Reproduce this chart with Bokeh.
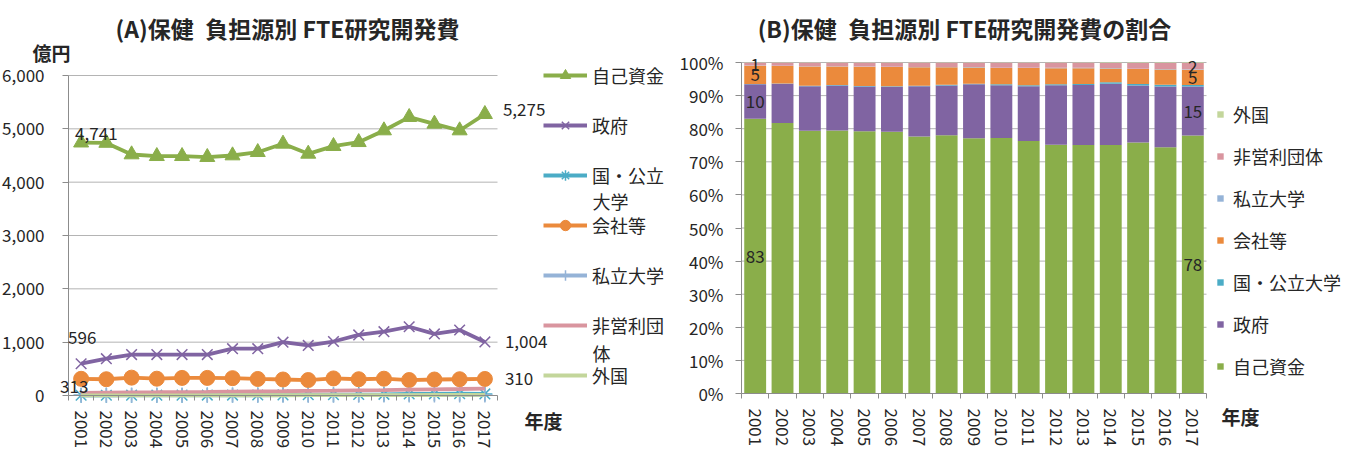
from bokeh.plotting import figure
from bokeh.models import (Range1d, FixedTicker, NumeralTickFormatter, Legend, LegendItem,
                          Label, ColumnDataSource, LinearAxis)
from bokeh.layouts import row
from bokeh.embed import file_html
from bokeh.resources import INLINE

FONT = "Noto Sans CJK JP"
TXT = "#262626"
GRID = "#B4B4B4"
AXIS = "#8C8C8C"

years = [str(y) for y in range(2001, 2018)]
series_names = ["自己資金", "政府", "国・公立大学", "会社等", "私立大学", "非営利団体", "外国"]
self_funds = [4741, 4735, 4519, 4487, 4487, 4469, 4500, 4562, 4719, 4531, 4675, 4749, 4969, 5219, 5094, 4969, 5275]
government = [596, 690, 767, 767, 767, 767, 878, 878, 1000, 939, 1012, 1136, 1197, 1289, 1155, 1228, 1004]
national_univ = [5, 5, 6, 6, 7, 8, 8, 10, 12, 14, 16, 18, 22, 28, 32, 35, 30]
companies = [313, 305, 335, 315, 330, 330, 325, 310, 300, 290, 320, 305, 315, 290, 300, 305, 310]
private_univ = [3, 3, 4, 4, 4, 5, 5, 5, 6, 6, 7, 7, 8, 8, 9, 10, 10]
nonprofit = [50, 55, 60, 62, 65, 68, 72, 75, 80, 86, 90, 96, 100, 110, 116, 122, 130]
foreign = [3, 3, 3, 4, 4, 4, 5, 5, 5, 6, 6, 6, 7, 8, 9, 10, 10]
y_ticks_a = [0, 1000, 2000, 3000, 4000, 5000, 6000]
y_ticks_b = [0, 0.1, 0.2, 0.3, 0.4, 0.5, 0.6, 0.7, 0.8, 0.9, 1.0]

values = [self_funds, government, national_univ, companies, private_univ, nonprofit, foreign]
colors = ["#8AAE4A", "#8064A2", "#4BACC6", "#EB8A3C", "#95B3D7", "#D9959F", "#C3D69B"]
markers = ["triangle", "x", "asterisk", "circle", "cross", None, None]
legend_a_labels = ["自己資金", "政府", "国・公立", "会社等", "私立大学", "非営利団", "外国"]

xs = list(range(len(years)))
N = len(years)
H = 462


def make_fig(width, left, right, top, bottom, ymax):
    """Figure whose frame is the whole canvas; the plot area (left..right, top..bottom px)
    is mapped onto categories -0.5..N-0.5 and values 0..ymax."""
    ppx = (right - left) / N
    ppy = (bottom - top) / ymax
    xr = Range1d(-0.5 - left / ppx, N - 0.5 + (width - right) / ppx)
    yr = Range1d(-(H - bottom) / ppy, ymax + top / ppy)
    p = figure(width=width, height=H, x_range=xr, y_range=yr, x_axis_type=None, y_axis_type=None,
               output_backend="svg", toolbar_location=None, title_location=None,
               min_border=0, min_border_left=0, min_border_right=0, min_border_top=0, min_border_bottom=0)
    p.outline_line_color = None
    p.xgrid.visible = False
    p.ygrid.visible = False
    return p


def add_axes(p, yticks, yfmt, ymax, ystandoff):
    # horizontal grid lines within the plot area
    gy = [t for t in yticks if t != 0]
    p.segment(x0=[-0.5] * len(gy), x1=[N - 0.5] * len(gy), y0=gy, y1=gy,
              line_color=GRID, line_width=1, level="underlay")
    xa = LinearAxis(fixed_location=0, bounds=(-0.5, N - 0.5),
                    ticker=FixedTicker(ticks=xs, minor_ticks=[i - 0.5 for i in range(N + 1)]))
    xa.major_label_overrides = {i: y for i, y in enumerate(years)}
    xa.major_label_orientation = "vertical"
    xa.major_tick_out = 0
    xa.major_tick_in = 0
    xa.minor_tick_out = 5
    xa.minor_tick_in = 0
    xa.major_label_standoff = 10
    ya = LinearAxis(fixed_location=-0.5, bounds=(0, ymax), ticker=FixedTicker(ticks=yticks),
                    formatter=NumeralTickFormatter(format=yfmt))
    ya.major_tick_out = 6
    ya.major_tick_in = 0
    ya.major_label_standoff = ystandoff
    for ax in (xa, ya):
        ax.axis_line_color = AXIS
        ax.major_tick_line_color = AXIS
        ax.minor_tick_line_color = AXIS
        ax.major_label_text_font = FONT
        ax.major_label_text_font_size = "17px"
        ax.major_label_text_color = TXT
    p.add_layout(xa, "below")
    p.add_layout(ya, "left")


def screen_label(p, x, y_top, text, size="18px", bold=False, align="left"):
    p.add_layout(Label(x=x, y=H - y_top, x_units="screen", y_units="screen", text=text,
                       text_font=FONT, text_font_size=size,
                       text_font_style="bold" if bold else "normal",
                       text_color=TXT, text_align=align, text_baseline="middle"))


# ---------------- (A) line chart ----------------
pA = make_fig(680, 68, 497, 75, 395, 6000)
add_axes(pA, y_ticks_a, "0,0", 6000, 18)

items_a = []
for lab, vals, col, mk in zip(legend_a_labels, values, colors, markers):
    rs = [pA.line(xs, vals, line_color=col, line_width=3.8)]
    if mk is not None:
        rs.append(pA.scatter(xs, vals, marker=mk, size=15, line_color=col,
                             line_width=1.5 if mk in ("x", "asterisk", "cross") else 1,
                             fill_color=col))
    items_a.append(LegendItem(label=lab, renderers=rs))

legA = Legend(items=items_a, location=(543, 74), orientation="vertical",
              glyph_width=44, glyph_height=26, label_height=26, spacing=24,
              label_standoff=5, padding=0, margin=0, border_line_alpha=0,
              background_fill_alpha=0, label_text_font=FONT, label_text_font_size="18px",
              label_text_color=TXT)
pA.add_layout(legA, "center")
screen_label(pA, 592, 200, "大学")
screen_label(pA, 592, 352, "体")

# data labels (first / last values)
lab_specs = [
    (0, self_funds[0], -6, 9), (N - 1, self_funds[N - 1], 18, 5),
    (0, government[0], -13, 26), (N - 1, government[N - 1], 20, 0),
    (0, companies[0], -21, -8), (N - 1, companies[N - 1], 20, 0),
]
for xi, v, dx, dy in lab_specs:
    pA.add_layout(Label(x=xi, y=v, x_offset=dx, y_offset=dy, text=f"{v:,}",
                        text_font=FONT, text_font_size="17px", text_color=TXT,
                        text_align="left", text_baseline="middle"))

screen_label(pA, 287, 27, "(A)保健\u2002負担源別 FTE研究開発費", size="23px", bold=True, align="center")
screen_label(pA, 51, 52, "億円", size="19px", bold=True, align="center")
screen_label(pA, 543, 420, "年度", size="19px", bold=True, align="center")

# ---------------- (B) share chart ----------------
totals = [sum(v[i] for v in values) for i in range(N)]
share_keys = [f"s{k}" for k in range(len(series_names))]
data_b = {"x": xs}
for k, vals in zip(share_keys, values):
    data_b[k] = [v / t for v, t in zip(vals, totals)]
src_b = ColumnDataSource(data_b)

pB = make_fig(670, 61, 526, 62, 393, 1.0)
add_axes(pB, y_ticks_b, "0%", 1.0, 12)

rend_b = pB.vbar_stack(share_keys, x="x", width=0.8, color=colors, source=src_b, line_color=None)
items_b = [LegendItem(label=n, renderers=[r]) for n, r in zip(series_names, rend_b)][::-1]
legB = Legend(items=items_b, location=(536, 83), orientation="vertical",
              glyph_width=8, glyph_height=8, label_height=26, spacing=16,
              label_standoff=9, padding=0, margin=0, border_line_alpha=0,
              background_fill_alpha=0, label_text_font=FONT, label_text_font_size="18px",
              label_text_color=TXT)
pB.add_layout(legB, "center")

# segment labels for first and last bars (自己資金, 政府, 会社等, 非営利団体)
for xi in (0, N - 1):
    cum = 0.0
    for k, key in enumerate(share_keys):
        s = data_b[key][xi]
        if series_names[k] in ("自己資金", "政府", "会社等", "非営利団体"):
            pB.add_layout(Label(x=xi, y=cum + s / 2, text=f"{round(s * 100)}",
                                text_font=FONT, text_font_size="17px", text_color=TXT,
                                text_align="center", text_baseline="middle"))
        cum += s

screen_label(pB, 284, 27, "(B)保健\u2002負担源別 FTE研究開発費の割合", size="23px", bold=True, align="center")
screen_label(pB, 560, 416, "年度", size="19px", bold=True, align="center")

layout = row(pA, pB)
open("out.html", "w").write(file_html(layout, INLINE))
